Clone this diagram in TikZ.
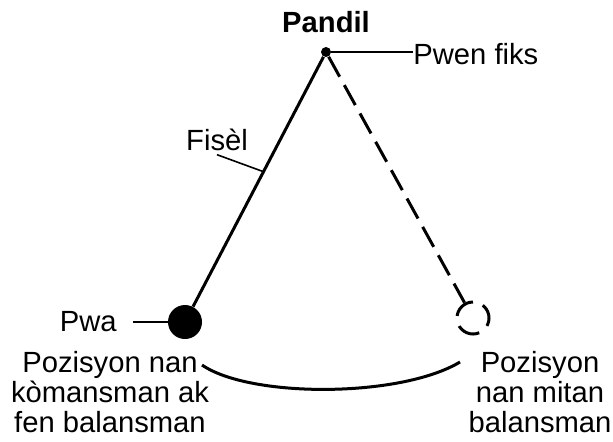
\documentclass[tikz,border=0pt]{standalone}
\usepackage{fontspec}
\setmainfont{Liberation Sans}
\usepackage{tikz}

\begin{document}
\begin{tikzpicture}[
            x=0.5pt, y=-0.5pt,             % 1 unit = 1 px of the drawing
            every node/.style={font=\fontsize{14.6}{15}\selectfont},
            lbl/.style={inner sep=0pt, align=center},
            dot/.style={circle, fill=black, inner sep=0pt, minimum size=#1},
            ghost/.style={circle, draw, line width=1.5pt, inner sep=0pt,
                minimum size=16pt, dash pattern=on 11.5pt off 5.26pt, dash phase=4.2pt},
            rope/.style={line width=1.5pt},
            leader/.style={line width=0.8pt}
        ]
            \useasboundingbox (0,0) rectangle (613,441);

            % pendil
            \node[dot=5pt] (pivot) at (326,52) {};
            \node[dot=17pt] (bob) at (185,322) {};
            \node[ghost] (ghostbob) at (473,318) {};

            % etikèt
            \node[lbl, font=\bfseries\fontsize{14.6}{15}\selectfont, anchor=base] (title) at (326,32) {Pandil};
            \node[lbl, anchor=west] (fix) at (413,54) {Pwen fiks};
            \node[lbl, anchor=east, inner xsep=8pt] (pwa) at (133,322) {Pwa};
            \node[lbl, anchor=base, inner sep=2pt] (fisel) at (217,150) {Fisèl};
            \node[lbl, anchor=north] (start) at (110,351) {Pozisyon nan\\kòmansman ak\\fen balansman};
            \node[lbl, anchor=north] (mid) at (540,351) {Pozisyon\\nan mitan\\balansman};

            \coordinate (swingA) at (202,365);
            \coordinate (swingB) at (460,362);

            % fisèl ak liy
            \draw[rope] (pivot) -- (bob);
            \draw[rope, dash pattern=on 11.4pt off 4.8pt] (pivot) -- (ghostbob);
            \path (pivot) -- (bob) coordinate[pos=0.46] (fs);
            \draw[leader] (pivot) -- (pivot -| fix.west);
            \draw[leader] (bob) -- (pwa);
            \draw[leader] (fisel.south) -- (fs);
            \draw[rope] (swingA) .. controls (250,398) and (400,398) .. (swingB);
        \end{tikzpicture}
\end{document}
